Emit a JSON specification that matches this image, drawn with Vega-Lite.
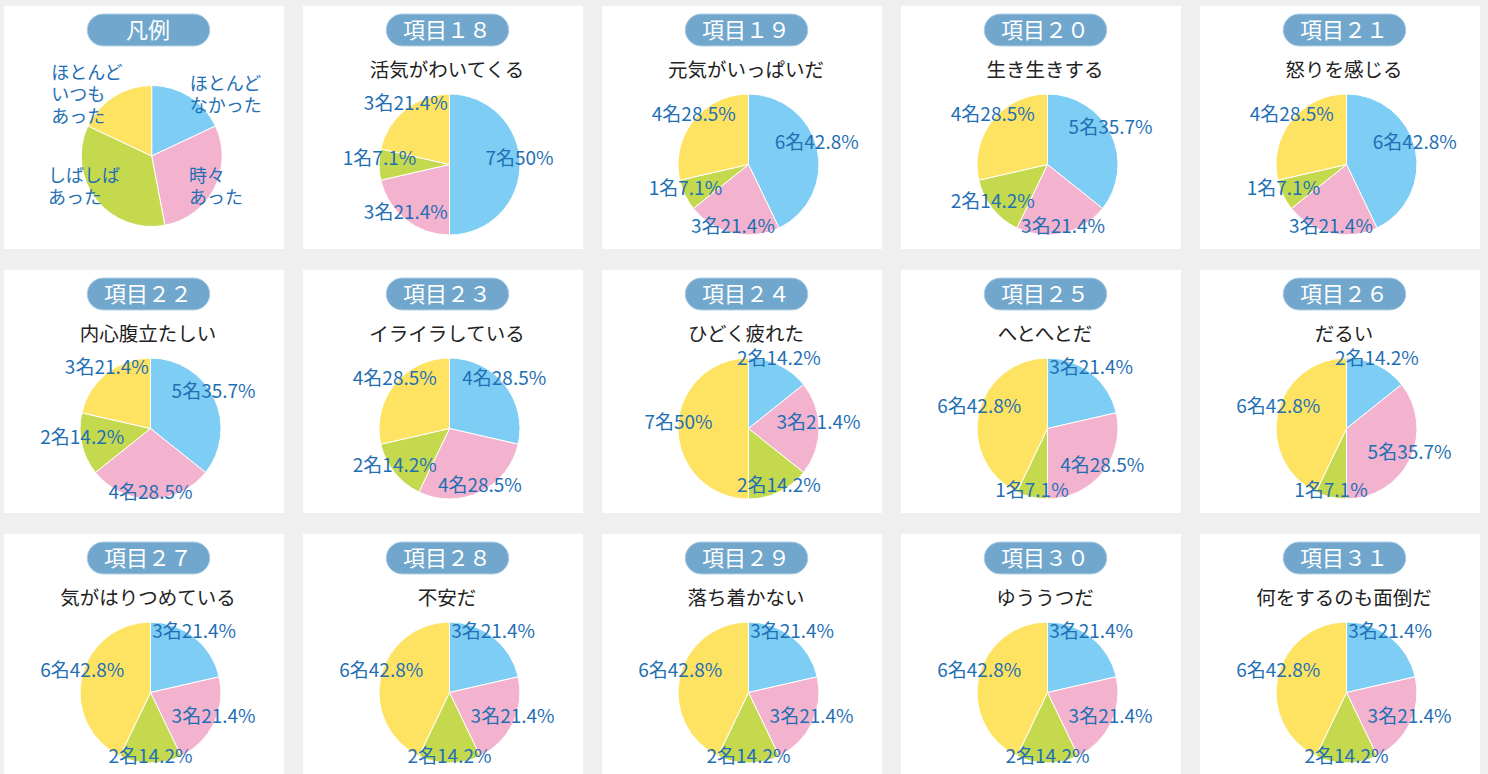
{
  "$schema": "https://vega.github.io/schema/vega-lite/v6.json",
  "background": "#efefef",
  "padding": {"left": 4, "top": 5, "right": 8, "bottom": 0},
  "config": {"view": {"fill": "white", "stroke": null}, "text": {"font": "Noto Sans CJK JP"}},
  "data": {"values": [
    {"item": "凡例", "title": "", "cat": "ほとんどなかった", "k": 1, "n": 18, "label": "ほとんど\nなかった"},
    {"item": "凡例", "title": "", "cat": "時々あった", "k": 2, "n": 29, "label": "時々\nあった"},
    {"item": "凡例", "title": "", "cat": "しばしばあった", "k": 3, "n": 35, "label": "しばしば\nあった"},
    {"item": "凡例", "title": "", "cat": "ほとんどいつもあった", "k": 4, "n": 18, "label": "ほとんど\nいつも\nあった"},
    {"item": "項目１８", "title": "活気がわいてくる", "cat": "ほとんどなかった", "k": 1, "n": 7, "label": "7名50%"},
    {"item": "項目１８", "title": "活気がわいてくる", "cat": "時々あった", "k": 2, "n": 3, "label": "3名21.4%"},
    {"item": "項目１８", "title": "活気がわいてくる", "cat": "しばしばあった", "k": 3, "n": 1, "label": "1名7.1%"},
    {"item": "項目１８", "title": "活気がわいてくる", "cat": "ほとんどいつもあった", "k": 4, "n": 3, "label": "3名21.4%"},
    {"item": "項目１９", "title": "元気がいっぱいだ", "cat": "ほとんどなかった", "k": 1, "n": 6, "label": "6名42.8%"},
    {"item": "項目１９", "title": "元気がいっぱいだ", "cat": "時々あった", "k": 2, "n": 3, "label": "3名21.4%"},
    {"item": "項目１９", "title": "元気がいっぱいだ", "cat": "しばしばあった", "k": 3, "n": 1, "label": "1名7.1%"},
    {"item": "項目１９", "title": "元気がいっぱいだ", "cat": "ほとんどいつもあった", "k": 4, "n": 4, "label": "4名28.5%"},
    {"item": "項目２０", "title": "生き生きする", "cat": "ほとんどなかった", "k": 1, "n": 5, "label": "5名35.7%"},
    {"item": "項目２０", "title": "生き生きする", "cat": "時々あった", "k": 2, "n": 3, "label": "3名21.4%"},
    {"item": "項目２０", "title": "生き生きする", "cat": "しばしばあった", "k": 3, "n": 2, "label": "2名14.2%"},
    {"item": "項目２０", "title": "生き生きする", "cat": "ほとんどいつもあった", "k": 4, "n": 4, "label": "4名28.5%"},
    {"item": "項目２１", "title": "怒りを感じる", "cat": "ほとんどなかった", "k": 1, "n": 6, "label": "6名42.8%"},
    {"item": "項目２１", "title": "怒りを感じる", "cat": "時々あった", "k": 2, "n": 3, "label": "3名21.4%"},
    {"item": "項目２１", "title": "怒りを感じる", "cat": "しばしばあった", "k": 3, "n": 1, "label": "1名7.1%"},
    {"item": "項目２１", "title": "怒りを感じる", "cat": "ほとんどいつもあった", "k": 4, "n": 4, "label": "4名28.5%"},
    {"item": "項目２２", "title": "内心腹立たしい", "cat": "ほとんどなかった", "k": 1, "n": 5, "label": "5名35.7%"},
    {"item": "項目２２", "title": "内心腹立たしい", "cat": "時々あった", "k": 2, "n": 4, "label": "4名28.5%"},
    {"item": "項目２２", "title": "内心腹立たしい", "cat": "しばしばあった", "k": 3, "n": 2, "label": "2名14.2%"},
    {"item": "項目２２", "title": "内心腹立たしい", "cat": "ほとんどいつもあった", "k": 4, "n": 3, "label": "3名21.4%"},
    {"item": "項目２３", "title": "イライラしている", "cat": "ほとんどなかった", "k": 1, "n": 4, "label": "4名28.5%"},
    {"item": "項目２３", "title": "イライラしている", "cat": "時々あった", "k": 2, "n": 4, "label": "4名28.5%"},
    {"item": "項目２３", "title": "イライラしている", "cat": "しばしばあった", "k": 3, "n": 2, "label": "2名14.2%"},
    {"item": "項目２３", "title": "イライラしている", "cat": "ほとんどいつもあった", "k": 4, "n": 4, "label": "4名28.5%"},
    {"item": "項目２４", "title": "ひどく疲れた", "cat": "ほとんどなかった", "k": 1, "n": 2, "label": "2名14.2%"},
    {"item": "項目２４", "title": "ひどく疲れた", "cat": "時々あった", "k": 2, "n": 3, "label": "3名21.4%"},
    {"item": "項目２４", "title": "ひどく疲れた", "cat": "しばしばあった", "k": 3, "n": 2, "label": "2名14.2%"},
    {"item": "項目２４", "title": "ひどく疲れた", "cat": "ほとんどいつもあった", "k": 4, "n": 7, "label": "7名50%"},
    {"item": "項目２５", "title": "へとへとだ", "cat": "ほとんどなかった", "k": 1, "n": 3, "label": "3名21.4%"},
    {"item": "項目２５", "title": "へとへとだ", "cat": "時々あった", "k": 2, "n": 4, "label": "4名28.5%"},
    {"item": "項目２５", "title": "へとへとだ", "cat": "しばしばあった", "k": 3, "n": 1, "label": "1名7.1%"},
    {"item": "項目２５", "title": "へとへとだ", "cat": "ほとんどいつもあった", "k": 4, "n": 6, "label": "6名42.8%"},
    {"item": "項目２６", "title": "だるい", "cat": "ほとんどなかった", "k": 1, "n": 2, "label": "2名14.2%"},
    {"item": "項目２６", "title": "だるい", "cat": "時々あった", "k": 2, "n": 5, "label": "5名35.7%"},
    {"item": "項目２６", "title": "だるい", "cat": "しばしばあった", "k": 3, "n": 1, "label": "1名7.1%"},
    {"item": "項目２６", "title": "だるい", "cat": "ほとんどいつもあった", "k": 4, "n": 6, "label": "6名42.8%"},
    {"item": "項目２７", "title": "気がはりつめている", "cat": "ほとんどなかった", "k": 1, "n": 3, "label": "3名21.4%"},
    {"item": "項目２７", "title": "気がはりつめている", "cat": "時々あった", "k": 2, "n": 3, "label": "3名21.4%"},
    {"item": "項目２７", "title": "気がはりつめている", "cat": "しばしばあった", "k": 3, "n": 2, "label": "2名14.2%"},
    {"item": "項目２７", "title": "気がはりつめている", "cat": "ほとんどいつもあった", "k": 4, "n": 6, "label": "6名42.8%"},
    {"item": "項目２８", "title": "不安だ", "cat": "ほとんどなかった", "k": 1, "n": 3, "label": "3名21.4%"},
    {"item": "項目２８", "title": "不安だ", "cat": "時々あった", "k": 2, "n": 3, "label": "3名21.4%"},
    {"item": "項目２８", "title": "不安だ", "cat": "しばしばあった", "k": 3, "n": 2, "label": "2名14.2%"},
    {"item": "項目２８", "title": "不安だ", "cat": "ほとんどいつもあった", "k": 4, "n": 6, "label": "6名42.8%"},
    {"item": "項目２９", "title": "落ち着かない", "cat": "ほとんどなかった", "k": 1, "n": 3, "label": "3名21.4%"},
    {"item": "項目２９", "title": "落ち着かない", "cat": "時々あった", "k": 2, "n": 3, "label": "3名21.4%"},
    {"item": "項目２９", "title": "落ち着かない", "cat": "しばしばあった", "k": 3, "n": 2, "label": "2名14.2%"},
    {"item": "項目２９", "title": "落ち着かない", "cat": "ほとんどいつもあった", "k": 4, "n": 6, "label": "6名42.8%"},
    {"item": "項目３０", "title": "ゆううつだ", "cat": "ほとんどなかった", "k": 1, "n": 3, "label": "3名21.4%"},
    {"item": "項目３０", "title": "ゆううつだ", "cat": "時々あった", "k": 2, "n": 3, "label": "3名21.4%"},
    {"item": "項目３０", "title": "ゆううつだ", "cat": "しばしばあった", "k": 3, "n": 2, "label": "2名14.2%"},
    {"item": "項目３０", "title": "ゆううつだ", "cat": "ほとんどいつもあった", "k": 4, "n": 6, "label": "6名42.8%"},
    {"item": "項目３１", "title": "何をするのも面倒だ", "cat": "ほとんどなかった", "k": 1, "n": 3, "label": "3名21.4%"},
    {"item": "項目３１", "title": "何をするのも面倒だ", "cat": "時々あった", "k": 2, "n": 3, "label": "3名21.4%"},
    {"item": "項目３１", "title": "何をするのも面倒だ", "cat": "しばしばあった", "k": 3, "n": 2, "label": "2名14.2%"},
    {"item": "項目３１", "title": "何をするのも面倒だ", "cat": "ほとんどいつもあった", "k": 4, "n": 6, "label": "6名42.8%"}
  ]},
  "facet": {
    "field": "item", "type": "nominal",
    "sort": ["凡例", "項目１８", "項目１９", "項目２０", "項目２１", "項目２２", "項目２３", "項目２４", "項目２５", "項目２６", "項目２７", "項目２８", "項目２９", "項目３０", "項目３１"],
    "header": {"title": null, "labels": false, "labelExpr": "''", "labelFontSize": 1, "labelPadding": 0, "labelColor": "#efefef"}
  },
  "columns": 5,
  "spacing": {"row": 20, "column": 19},
  "spec": {
    "width": 280,
    "height": 243,
    "view": {"fill": "white", "stroke": null},
    "layer": [
      {
        "transform": [{"filter": "datum.k === 1"}],
        "mark": {"type": "rect", "fill": "#ffffff", "stroke": null, "opacity": 1},
        "encoding": {}
      },
      {
        "transform": [{"filter": "datum.k === 1"}],
        "mark": {"type": "point", "shape": "M-0.74,-0.26 L0.74,-0.26 A0.26,0.26 0 0 1 0.74,0.26 L-0.74,0.26 A0.26,0.26 0 0 1 -0.74,-0.26 Z", "size": 15000, "filled": true, "fill": "#71a7cc", "stroke": "#a9cbe0", "strokeWidth": 1, "opacity": 1, "xOffset": 4.5, "yOffset": -97.5},
        "encoding": {}
      },
      {
        "transform": [{"filter": "datum.k === 1"}],
        "mark": {"type": "text", "font": "Noto Sans CJK JP", "fontSize": 22, "fill": "#ffffff", "align": "center", "baseline": "middle", "xOffset": 4, "yOffset": -97},
        "encoding": {"text": {"field": "item"}}
      },
      {
        "transform": [{"filter": "datum.k === 1"}],
        "mark": {"type": "text", "font": "Noto Sans CJK JP", "fontSize": 19.5, "fill": "#222222", "align": "center", "baseline": "middle", "xOffset": 4, "yOffset": -57},
        "encoding": {"text": {"field": "title"}}
      },
      {
        "transform": [{"filter": "datum.item !== '凡例'"}],
        "mark": {"type": "arc", "radius": 70.5, "stroke": "white", "strokeWidth": 1, "xOffset": 6.5, "yOffset": 37},
        "encoding": {
          "theta": {"field": "n", "type": "quantitative", "stack": true},
          "order": {"field": "k", "type": "quantitative"},
          "color": {"field": "cat", "type": "nominal", "legend": null,
            "scale": {"domain": ["ほとんどなかった", "時々あった", "しばしばあった", "ほとんどいつもあった"], "range": ["#7dcdf4", "#f3b3cf", "#c4d94d", "#fee362"]}}
        }
      },
      {
        "transform": [{"filter": "datum.item === '凡例'"}],
        "mark": {"type": "arc", "radius": 70.5, "stroke": "white", "strokeWidth": 1, "xOffset": 7.7, "yOffset": 28.5},
        "encoding": {
          "theta": {"field": "n", "type": "quantitative", "stack": true},
          "order": {"field": "k", "type": "quantitative"},
          "color": {"field": "cat", "type": "nominal", "legend": null,
            "scale": {"domain": ["ほとんどなかった", "時々あった", "しばしばあった", "ほとんどいつもあった"], "range": ["#7dcdf4", "#f3b3cf", "#c4d94d", "#fee362"]}}
        }
      },
      {
        "transform": [{"filter": "datum.item !== '凡例'"}],
        "mark": {"type": "text", "font": "Noto Sans CJK JP", "radius": 70, "fontSize": 19, "fill": "#1f6fb4", "align": "center", "baseline": "middle", "xOffset": 6.5, "yOffset": 31},
        "encoding": {
          "theta": {"field": "n", "type": "quantitative", "stack": true},
          "order": {"field": "k", "type": "quantitative"},
          "text": {"field": "label"}
        }
      },
      {
        "transform": [{"filter": "datum.item === '凡例'"}],
        "mark": {"type": "text", "font": "Noto Sans CJK JP", "radius": 71, "fontSize": 18, "lineHeight": 22, "lineBreak": "\n", "fill": "#1f6fb4", "align": "left", "baseline": "middle", "dy": -11, "xOffset": 7.7, "yOffset": 28.5},
        "encoding": {
          "theta": {"field": "n", "type": "quantitative", "stack": true},
          "order": {"field": "k", "type": "quantitative"},
          "text": {"condition": {"test": "datum.k === 1", "field": "label"}, "value": ""}
        }
      },
      {
        "transform": [{"filter": "datum.item === '凡例'"}],
        "mark": {"type": "text", "font": "Noto Sans CJK JP", "radius": 71.5, "fontSize": 18, "lineHeight": 22, "lineBreak": "\n", "fill": "#1f6fb4", "align": "left", "baseline": "middle", "dx": -26.5, "dy": -11, "xOffset": 7.7, "yOffset": 28.5},
        "encoding": {
          "theta": {"field": "n", "type": "quantitative", "stack": true},
          "order": {"field": "k", "type": "quantitative"},
          "text": {"condition": {"test": "datum.k === 2", "field": "label"}, "value": ""}
        }
      },
      {
        "transform": [{"filter": "datum.item === '凡例'"}],
        "mark": {"type": "text", "font": "Noto Sans CJK JP", "radius": 52, "fontSize": 18, "lineHeight": 22, "lineBreak": "\n", "fill": "#1f6fb4", "align": "left", "baseline": "middle", "dx": -62.5, "dy": -11, "xOffset": 7.7, "yOffset": 28.5},
        "encoding": {
          "theta": {"field": "n", "type": "quantitative", "stack": true},
          "order": {"field": "k", "type": "quantitative"},
          "text": {"condition": {"test": "datum.k === 3", "field": "label"}, "value": ""}
        }
      },
      {
        "transform": [{"filter": "datum.item === '凡例'"}],
        "mark": {"type": "text", "font": "Noto Sans CJK JP", "radius": 71, "fontSize": 18, "lineHeight": 22, "lineBreak": "\n", "fill": "#1f6fb4", "align": "left", "baseline": "middle", "dx": -62.5, "dy": -22, "xOffset": 7.7, "yOffset": 28.5},
        "encoding": {
          "theta": {"field": "n", "type": "quantitative", "stack": true},
          "order": {"field": "k", "type": "quantitative"},
          "text": {"condition": {"test": "datum.k === 4", "field": "label"}, "value": ""}
        }
      }
    ]
  }
}
